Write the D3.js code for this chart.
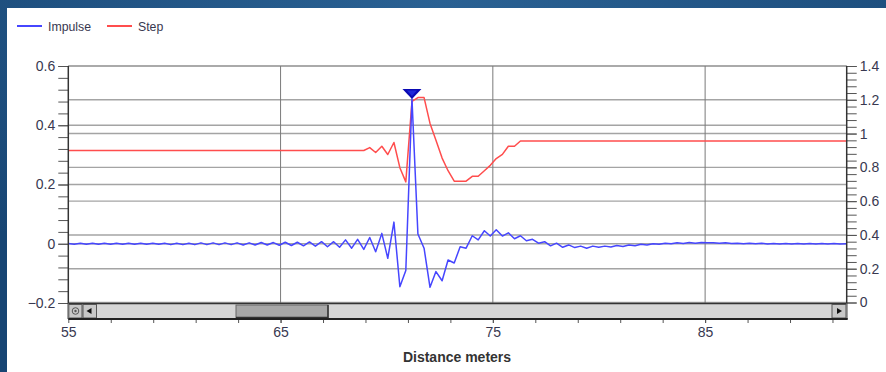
<!DOCTYPE html>
<html><head><meta charset="utf-8">
<script src="https://cdn.jsdelivr.net/npm/d3@7"></script>
<style>
html,body{margin:0;padding:0;background:#1d4f7f;}
svg{display:block;font-family:"Liberation Sans",Arial,sans-serif;}
</style></head>
<body>
<svg id="c" width="886" height="372"></svg>
<script>
// ---------- DATA ----------
const distance = [55.00,55.28,55.57,55.85,56.14,56.42,56.70,56.99,57.27,57.56,57.84,58.12,58.41,58.69,58.98,59.26,59.54,59.83,60.11,60.40,
60.68,60.96,61.25,61.53,61.82,62.10,62.38,62.67,62.95,63.24,63.52,63.80,64.09,64.37,64.66,64.94,65.22,65.51,65.79,66.08,
66.36,66.64,66.93,67.21,67.50,67.78,68.06,68.35,68.63,68.92,69.20,69.48,69.77,70.05,70.34,70.62,70.90,71.19,71.47,71.76,
72.04,72.32,72.61,72.89,73.18,73.46,73.74,74.03,74.31,74.60,74.88,75.16,75.45,75.73,76.02,76.30,76.58,76.87,77.15,77.44,
77.72,78.00,78.29,78.57,78.86,79.14,79.42,79.71,79.99,80.28,80.56,80.84,81.13,81.41,81.70,81.98,82.26,82.55,82.83,83.12,
83.40,83.68,83.97,84.25,84.54,84.82,85.10,85.39,85.67,85.96,86.24,86.52,86.81,87.09,87.38,87.66,87.94,88.23,88.51,88.80,
89.08,89.36,89.65,89.93,90.22,90.50,90.78,91.07,91.35,91.64];

const impulse = [0.001,-0.002,0.002,-0.002,0.002,-0.002,0.002,-0.002,0.002,-0.002,0.002,-0.002,0.002,-0.002,0.002,-0.002,0.002,-0.003,0.002,-0.003,
0.002,-0.003,0.003,-0.003,0.003,-0.003,0.003,-0.003,0.003,-0.004,0.003,-0.004,0.004,-0.004,0.004,-0.005,0.005,-0.006,0.005,-0.007,
0.006,-0.008,0.007,-0.010,0.007,-0.012,0.013,-0.015,0.015,-0.019,0.021,-0.027,0.035,-0.049,0.073,-0.145,-0.090,0.489,0.033,-0.015,
-0.147,-0.094,-0.125,-0.055,-0.065,-0.010,-0.015,0.027,0.013,0.044,0.026,0.047,0.026,0.037,0.017,0.027,0.010,0.015,0.002,0.007,
-0.007,0.002,-0.012,-0.004,-0.013,-0.008,-0.015,-0.008,-0.012,-0.008,-0.011,-0.006,-0.009,-0.004,-0.007,-0.002,-0.004,0.000,-0.002,0.002,
0.000,0.003,0.001,0.004,0.002,0.004,0.003,0.003,0.002,0.003,0.001,0.002,0.000,0.002,0.000,0.002,-0.001,0.001,-0.001,0.001,
-0.001,0.001,-0.001,0.001,-0.001,0.001,-0.001,0.001,-0.001,0.000];

const step = [0.900,0.900,0.900,0.900,0.900,0.900,0.900,0.900,0.900,0.900,0.900,0.900,0.900,0.900,0.900,0.900,0.900,0.900,0.900,0.900,
0.900,0.900,0.900,0.900,0.900,0.900,0.900,0.900,0.900,0.900,0.900,0.900,0.900,0.900,0.900,0.900,0.900,0.900,0.900,0.900,
0.900,0.900,0.900,0.900,0.900,0.900,0.900,0.900,0.900,0.900,0.917,0.888,0.925,0.876,0.947,0.798,0.714,1.190,1.213,1.213,
1.060,0.960,0.855,0.780,0.718,0.718,0.718,0.747,0.747,0.780,0.812,0.852,0.877,0.925,0.925,0.956,0.956,0.956,0.956,0.956,
0.956,0.956,0.956,0.956,0.956,0.956,0.956,0.956,0.956,0.956,0.956,0.956,0.956,0.956,0.956,0.956,0.956,0.956,0.956,0.956,
0.956,0.956,0.956,0.956,0.956,0.956,0.956,0.956,0.956,0.956,0.956,0.956,0.956,0.956,0.956,0.956,0.956,0.956,0.956,0.956,
0.956,0.956,0.956,0.956,0.956,0.956,0.956,0.956,0.956,0.956];

const seriesNames = ["Impulse","Step"];
const seriesColors = ["#4646ff","#ff4d4d"];
const xTickLabels = [55,65,75,85];
const leftTickLabels = [-0.2,0,0.2,0.4,0.6];
const rightTickLabels = [0,0.2,0.4,0.6,0.8,1,1.2,1.4];
const cursorDistance = 71.19;
const cursorValue = 0.489;
const xAxisTitle = "Distance meters";

// ---------- LAYOUT ----------
const svg = d3.select("#c");
const L = 68.3, R = 846.7, T = 66, B = 303, SB = 319;
const textCol = "#383850";

const x = d3.scaleLinear().domain([55, 91.67]).range([L, R]);
const yL = d3.scaleLinear().domain([-0.2, 0.6]).range([B, T]);
const yR = d3.scaleLinear().domain([0, 1.4]).range([B - 0.5, T]);

// background
const defs = svg.append("defs");
const g1 = defs.append("radialGradient").attr("id","bg").attr("cx","50%").attr("cy","0%").attr("r","80%");
g1.append("stop").attr("offset","0%").attr("stop-color","#2a6193");
g1.append("stop").attr("offset","100%").attr("stop-color","#174573");
svg.append("rect").attr("width",886).attr("height",372).attr("fill","url(#bg)");
svg.append("rect").attr("x",7).attr("y",8).attr("width",879).attr("height",364).attr("fill","#ffffff");

// legend
const leg = svg.append("g");
const legX = [17, 107];
seriesNames.forEach((n,i)=>{
  leg.append("line").attr("x1",legX[i]).attr("x2",legX[i]+25).attr("y1",26).attr("y2",26)
     .attr("stroke",seriesColors[i]).attr("stroke-width",2);
  leg.append("text").attr("x",legX[i]+31).attr("y",30.5).text(n)
     .attr("font-size",12.3).attr("fill",textCol);
});

// grid lines
const grid = svg.append("g");
grid.selectAll(".hl").data(leftTickLabels).join("line")
  .attr("x1",L).attr("x2",R).attr("y1",d=>yL(d)).attr("y2",d=>yL(d))
  .attr("stroke","#a4a4a4").attr("stroke-width",1.4);
grid.selectAll(".hr").data(rightTickLabels).join("line").attr("class","hr")
  .attr("x1",L).attr("x2",R).attr("y1",d=>yR(d)).attr("y2",d=>yR(d))
  .attr("stroke","#a4a4a4").attr("stroke-width",1.4);
grid.selectAll(".v").data(xTickLabels.slice(1)).join("line").attr("class","v")
  .attr("x1",d=>x(d)).attr("x2",d=>x(d)).attr("y1",T).attr("y2",B)
  .attr("stroke","#7a7a7a").attr("stroke-width",1);

// clip
defs.append("clipPath").attr("id","clip").append("rect").attr("x",L).attr("y",T-20).attr("width",R-L).attr("height",B-T+20);

const pts = distance.map((d,i)=>({d, imp: impulse[i], st: step[i]}));
const plot = svg.append("g").attr("clip-path","url(#clip)");
plot.append("path").datum(pts)
  .attr("d", d3.line().x(p=>x(p.d)).y(p=>yR(p.st)))
  .attr("fill","none").attr("stroke",seriesColors[1]).attr("stroke-width",1.5).attr("stroke-linejoin","round");
plot.append("path").datum(pts)
  .attr("d", d3.line().x(p=>x(p.d)).y(p=>yL(p.imp)))
  .attr("fill","none").attr("stroke",seriesColors[0]).attr("stroke-width",1.5).attr("stroke-linejoin","round");

// cursor marker
const cx = x(cursorDistance), cy = yL(cursorValue);
svg.append("path")
  .attr("d", `M${cx-9.5},${cy-10} L${cx+9.5},${cy-10} L${cx},${cy} Z`)
  .attr("fill","#0a0ab4");
svg.append("path")
  .attr("d", `M${cx-5},${cy-8.5} L${cx+5},${cy-8.5} L${cx},${cy-3} Z`)
  .attr("fill","#1e28d8");

// left axis
const leftAxis = d3.axisLeft(yL).tickValues(leftTickLabels).tickSize(10).tickPadding(3)
  .tickFormat(d=>d3.format("")(+d.toFixed(1)));
const gl = svg.append("g").attr("transform",`translate(${L},0)`).call(leftAxis);
gl.selectAll(".tick line").attr("stroke","#555");
gl.selectAll("text").attr("font-size",14).attr("fill",textCol).attr("font-family","Liberation Sans, Arial");
gl.select(".domain").remove();
svg.append("g").attr("transform",`translate(${L},0)`)
  .call(d3.axisLeft(yL).tickValues(d3.range(-0.2,0.6001,0.04)).tickSize(10).tickFormat(""))
  .call(g=>{g.select(".domain").remove(); g.selectAll("line").attr("stroke","#555");});
svg.append("line").attr("x1",L).attr("x2",L).attr("y1",T).attr("y2",SB).attr("stroke","#333").attr("stroke-width",1.5);

// right axis
const rightAxis = d3.axisRight(yR).tickValues(rightTickLabels).tickSize(10).tickPadding(3)
  .tickFormat(d=>d3.format("")(+d.toFixed(1)));
const gr = svg.append("g").attr("transform",`translate(${R},0)`).call(rightAxis);
gr.selectAll(".tick line").attr("stroke","#555");
gr.selectAll("text").attr("font-size",14).attr("fill",textCol).attr("font-family","Liberation Sans, Arial");
gr.select(".domain").remove();
svg.append("g").attr("transform",`translate(${R},0)`)
  .call(d3.axisRight(yR).tickValues(d3.range(0,1.4001,0.04)).tickSize(10).tickFormat(""))
  .call(g=>{g.select(".domain").remove(); g.selectAll("line").attr("stroke","#555");});
svg.append("line").attr("x1",R).attr("x2",R).attr("y1",T).attr("y2",SB).attr("stroke","#333").attr("stroke-width",1.5);

// scrollbar
const sb = svg.append("g");
sb.append("rect").attr("x",L).attr("y",B).attr("width",R-L).attr("height",SB-B).attr("fill","#d6d6d6");
sb.append("line").attr("x1",L).attr("x2",R).attr("y1",B+0.5).attr("y2",B+0.5).attr("stroke","#333").attr("stroke-width",1.5);
[[L,82.5],[82.5,97]].forEach(([a,b])=>{
  sb.append("rect").attr("x",a+0.5).attr("y",B+1.5).attr("width",b-a-1).attr("height",SB-B-2.5)
    .attr("fill","#c8c8c8").attr("stroke","#555").attr("stroke-width",1);
});
sb.append("circle").attr("cx",75.5).attr("cy",B+8).attr("r",3.3).attr("fill","none").attr("stroke","#555").attr("stroke-width",1);
sb.append("circle").attr("cx",75.5).attr("cy",B+8).attr("r",1.2).attr("fill","#555");
sb.append("path").attr("d",`M86.5,${B+8} L91.5,${B+5} L91.5,${B+11} Z`).attr("fill","#111");
sb.append("rect").attr("x",832).attr("y",B+1.5).attr("width",14).attr("height",SB-B-2.5)
  .attr("fill","#c8c8c8").attr("stroke","#555").attr("stroke-width",1);
sb.append("path").attr("d",`M842,${B+8} L837,${B+5} L837,${B+11} Z`).attr("fill","#111");
sb.append("rect").attr("x",236).attr("y",B+2).attr("width",92).attr("height",SB-B-3.5)
  .attr("fill","#a8a8a8").attr("stroke","#666").attr("stroke-width",1);
sb.append("line").attr("x1",236).attr("x2",328).attr("y1",SB-1.5).attr("y2",SB-1.5).attr("stroke","#333").attr("stroke-width",1.5);
sb.append("line").attr("x1",328).attr("x2",328).attr("y1",B+2).attr("y2",SB-1).attr("stroke","#333").attr("stroke-width",1.5);

// bottom axis
const bottomAxis = d3.axisBottom(x).tickValues(xTickLabels).tickSize(4).tickPadding(4).tickFormat(d3.format("d"));
const gb = svg.append("g").attr("transform",`translate(0,${SB})`).call(bottomAxis);
gb.select(".domain").remove();
gb.selectAll(".tick line").attr("stroke","#555");
gb.selectAll("text").attr("font-size",14).attr("fill",textCol).attr("font-family","Liberation Sans, Arial");
svg.append("g").attr("transform",`translate(0,${SB})`)
  .call(d3.axisBottom(x).tickValues(d3.range(57,91.7,2)).tickSize(4).tickFormat(""))
  .call(g=>{g.select(".domain").remove(); g.selectAll("line").attr("stroke","#555");});
svg.append("line").attr("x1",L).attr("x2",R+1).attr("y1",SB).attr("y2",SB).attr("stroke","#222").attr("stroke-width",2);

svg.append("text").attr("x",457).attr("y",362).attr("text-anchor","middle")
  .attr("font-size",14).attr("font-weight","bold").attr("fill","#333").text(xAxisTitle);
</script>
</body></html>
